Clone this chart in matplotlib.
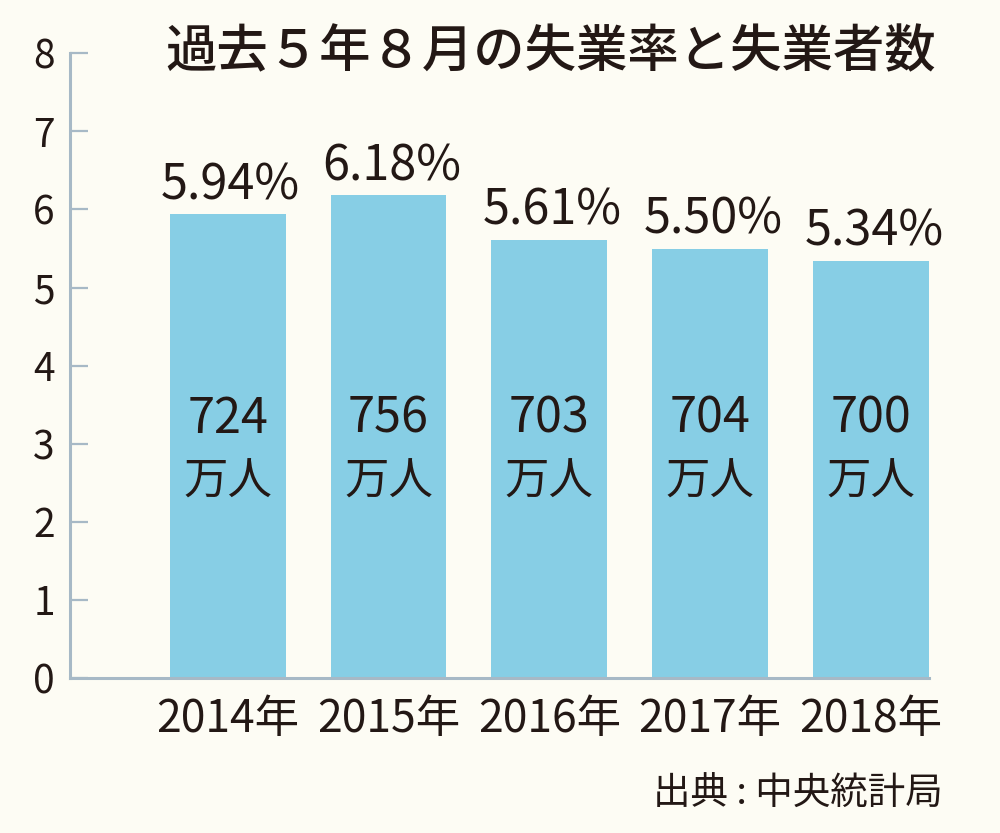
import matplotlib
matplotlib.use("Agg")
import matplotlib.pyplot as plt

plt.rcParams['font.family'] = ['Noto Sans CJK JP', 'DejaVu Sans']

years = ["2014年", "2015年", "2016年", "2017年", "2018年"]
rates = [5.94, 6.18, 5.61, 5.50, 5.34]
counts = [724, 756, 703, 704, 700]
yticks = [0, 1, 2, 3, 4, 5, 6, 7, 8]
title = "過去５年８月の失業率と失業者数"
source = "出典 : 中央統計局"

bg = "#FDFCF4"
bar_color = "#87CEE5"
axis_color = "#A7B9C6"
text_color = "#231815"

fig = plt.figure(figsize=(10, 8.33), dpi=100, facecolor=bg)
ax = fig.add_axes([0.07, 0.186, 0.859, 0.750], facecolor=bg)

x = list(range(len(years)))
ax.bar(x, rates, width=0.72, color=bar_color, zorder=2)

for xi, r, c in zip(x, rates, counts):
    ax.annotate(f"{r:.2f}%", (xi, r), xytext=(2, 3), textcoords="offset points",
                ha="center", va="bottom", fontsize=35, color=text_color)
    ax.text(xi, 3.32, f"{c}", ha="center", va="center", fontsize=35, color=text_color)
    ax.text(xi, 2.52, "万人", ha="center", va="center", fontsize=32, color=text_color)

ax.set_xlim(-0.98, 4.36)
ax.set_ylim(0, 8)
ax.set_yticks(yticks)
ax.set_yticklabels([str(t) for t in yticks])
ax.set_xticks(x)
ax.set_xticklabels(years)

for s in ["top", "right"]:
    ax.spines[s].set_visible(False)
for s in ["left", "bottom"]:
    ax.spines[s].set_color(axis_color)
    ax.spines[s].set_linewidth(2.2)

ax.tick_params(axis="y", direction="in", length=13, width=1.6, color=axis_color,
               labelsize=28, labelcolor=text_color, pad=11)
ax.tick_params(axis="x", length=0, labelsize=32, labelcolor=text_color, pad=13)

fig.text(0.551, 0.937, title, ha="center", va="center", fontsize=37,
         fontweight="medium", color=text_color)
fig.text(0.943, 0.046, source, ha="right", va="center", fontsize=27, color=text_color)

fig.savefig("out.png", dpi=100, facecolor=bg)
